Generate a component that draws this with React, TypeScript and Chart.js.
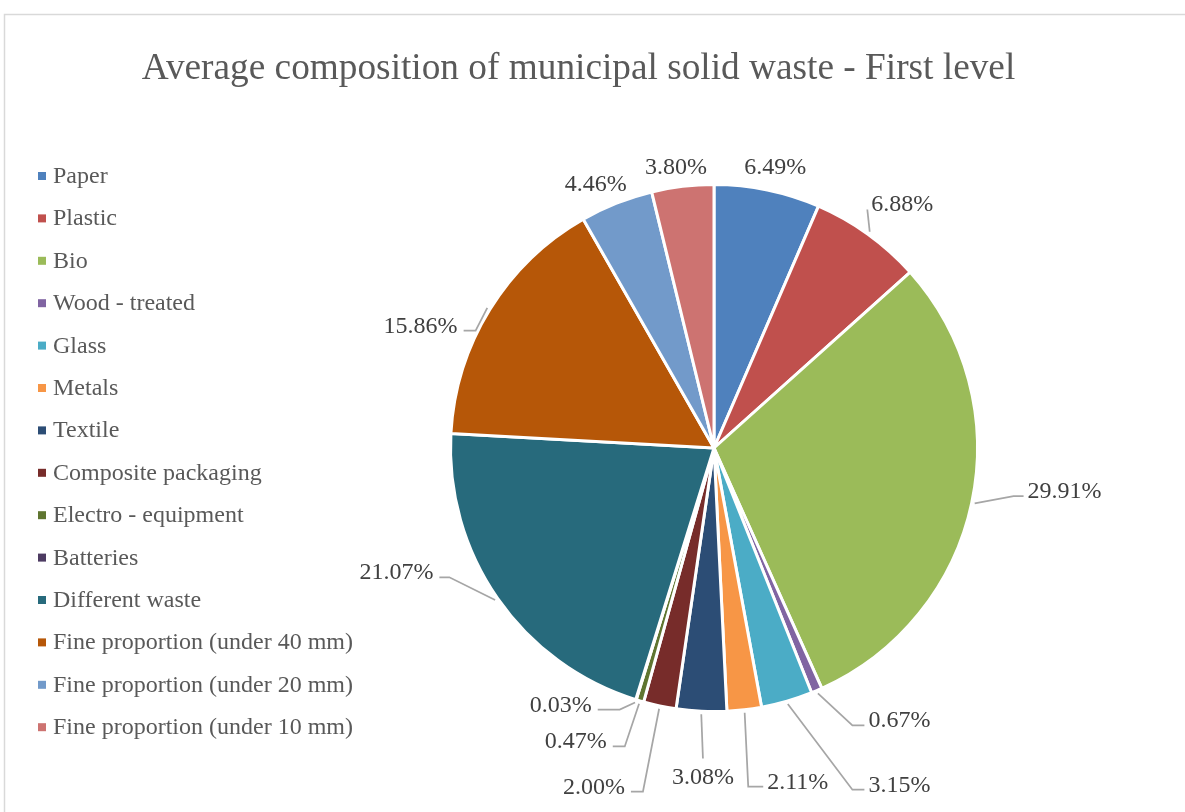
import { useEffect, useRef } from "react";
import { Chart, registerables } from "chart.js";

Chart.register(...registerables);

const chartTitle = "Average composition of municipal solid waste - First level";

const categories = [
  "Paper",
  "Plastic",
  "Bio",
  "Wood - treated",
  "Glass",
  "Metals",
  "Textile",
  "Composite packaging",
  "Electro - equipment",
  "Batteries",
  "Different waste",
  "Fine proportion (under 40 mm)",
  "Fine proportion (under 20 mm)",
  "Fine proportion (under 10 mm)",
];

// Share of each fraction, in percent
const shares = [6.49, 6.88, 29.91, 0.67, 3.15, 2.11, 3.08, 2.0, 0.47, 0.03, 21.07, 15.86, 4.46, 3.8];

const sliceColors = [
  "#4F81BD",
  "#C0504D",
  "#9BBB59",
  "#8064A2",
  "#4BACC6",
  "#F79646",
  "#2C4D75",
  "#772C2A",
  "#5F7530",
  "#4D3B62",
  "#276A7C",
  "#B65708",
  "#729ACA",
  "#CD7371",
];

// Where each value label sits, relative to the pie centre in units of the radius,
// and how its leader line is drawn ("run" = length of the horizontal segment).
type Placement = {
  dx: number;
  dy: number;
  align: "left" | "right" | "center";
  leader: "none" | "side" | "top";
  run: number;
};

const labelPlacement: Placement[] = [
  { dx: 0.232, dy: -1.072, align: "center", leader: "none", run: 0 },
  { dx: 0.597, dy: -0.928, align: "left", leader: "side", run: 0 },
  { dx: 1.19, dy: 0.16, align: "left", leader: "side", run: 10 },
  { dx: 0.586, dy: 1.03, align: "left", leader: "side", run: 12 },
  { dx: 0.586, dy: 1.274, align: "left", leader: "side", run: 12 },
  { dx: 0.202, dy: 1.262, align: "left", leader: "side", run: 15 },
  { dx: -0.042, dy: 1.243, align: "center", leader: "top", run: 0 },
  { dx: -0.338, dy: 1.281, align: "right", leader: "side", run: 12 },
  { dx: -0.407, dy: 1.11, align: "right", leader: "side", run: 12 },
  { dx: -0.464, dy: 0.97, align: "right", leader: "side", run: 22 },
  { dx: -1.065, dy: 0.468, align: "right", leader: "side", run: 10 },
  { dx: -0.973, dy: -0.468, align: "right", leader: "side", run: 12 },
  { dx: -0.449, dy: -1.004, align: "center", leader: "none", run: 0 },
  { dx: -0.144, dy: -1.072, align: "center", leader: "none", run: 0 },
];

const SERIF = "'Liberation Serif', 'Times New Roman', serif";

const framePlugin = {
  id: "frame",
  beforeDraw(chart: Chart) {
    const ctx = chart.ctx;
    ctx.save();
    ctx.fillStyle = "#FFFFFF";
    ctx.fillRect(0, 0, chart.width, chart.height);
    ctx.strokeStyle = "#D9D9D9";
    ctx.lineWidth = 1.5;
    ctx.strokeRect(4.5, 14.5, chart.width + 50, chart.height + 50);

    // title
    ctx.fillStyle = "#595959";
    ctx.font = `37.3px ${SERIF}`;
    ctx.textAlign = "center";
    ctx.textBaseline = "alphabetic";
    ctx.fillText(chartTitle, 578.5, 79);

    // legend
    ctx.font = `24px ${SERIF}`;
    ctx.textAlign = "left";
    const labels = chart.data.labels as string[];
    const colors = chart.data.datasets[0].backgroundColor as string[];
    labels.forEach((name, i) => {
      const base = 183 + i * 42.4;
      ctx.fillStyle = colors[i];
      ctx.fillRect(38, base - 11, 8, 8);
      ctx.fillStyle = "#595959";
      ctx.fillText(name, 53, base);
    });
    ctx.restore();
  },
};

const valueLabelPlugin = {
  id: "valueLabels",
  afterDatasetsDraw(chart: Chart) {
    const ctx = chart.ctx;
    const meta = chart.getDatasetMeta(0);
    const values = chart.data.datasets[0].data as number[];
    ctx.save();
    ctx.font = `24px ${SERIF}`;
    ctx.textBaseline = "alphabetic";
    meta.data.forEach((el: any, i: number) => {
      const p = el.getProps(["x", "y", "startAngle", "endAngle", "outerRadius"], true);
      const place = labelPlacement[i];
      const text = `${values[i].toFixed(2)}%`;
      const tx = p.x + place.dx * p.outerRadius;
      const ty = p.y + place.dy * p.outerRadius; // visual middle of the digits
      const w = ctx.measureText(text).width;

      // leader line
      if (place.leader !== "none") {
        const mid = (p.startAngle + p.endAngle) / 2;
        const r0 = p.outerRadius + 3;
        const sx = p.x + Math.cos(mid) * r0;
        const sy = p.y + Math.sin(mid) * r0;
        ctx.strokeStyle = "#A6A6A6";
        ctx.lineWidth = 1.75;
        ctx.beginPath();
        ctx.moveTo(sx, sy);
        if (place.leader === "top") {
          ctx.lineTo(tx, ty - 17);
        } else {
          const ly = ty + 6;
          if (place.align === "left") {
            const ex = tx - 4;
            ctx.lineTo(ex - place.run, ly);
            ctx.lineTo(ex, ly);
          } else {
            const ex = tx + 6;
            ctx.lineTo(ex + place.run, ly);
            ctx.lineTo(ex, ly);
          }
        }
        ctx.stroke();
      }

      ctx.fillStyle = "#404040";
      let left = tx - w / 2;
      if (place.align === "left") left = tx;
      if (place.align === "right") left = tx - w;
      ctx.textAlign = "left";
      ctx.fillText(text, left, ty + 8);
    });
    ctx.restore();
  },
};

export default function App() {
  const canvasRef = useRef<HTMLCanvasElement | null>(null);

  useEffect(() => {
    const canvas = canvasRef.current;
    if (!canvas) return;
    const chart = new Chart(canvas, {
      type: "pie",
      data: {
        labels: categories,
        datasets: [
          {
            data: shares,
            backgroundColor: sliceColors,
            borderColor: "#FFFFFF",
            borderWidth: 3,
          },
        ],
      },
      options: {
        responsive: false,
        animation: false,
        devicePixelRatio: 1,
        layout: {
          padding: { left: 449, right: 206, top: 183, bottom: 99 },
        },
        plugins: {
          legend: { display: false },
          title: { display: false },
          tooltip: { enabled: false },
        },
      },
      plugins: [framePlugin, valueLabelPlugin],
    });
    return () => chart.destroy();
  }, []);

  return (
    <div style={{ position: "absolute", left: 0, top: 0, width: 1185, height: 812 }}>
      <canvas ref={canvasRef} width={1185} height={812} style={{ display: "block" }} />
    </div>
  );
}
